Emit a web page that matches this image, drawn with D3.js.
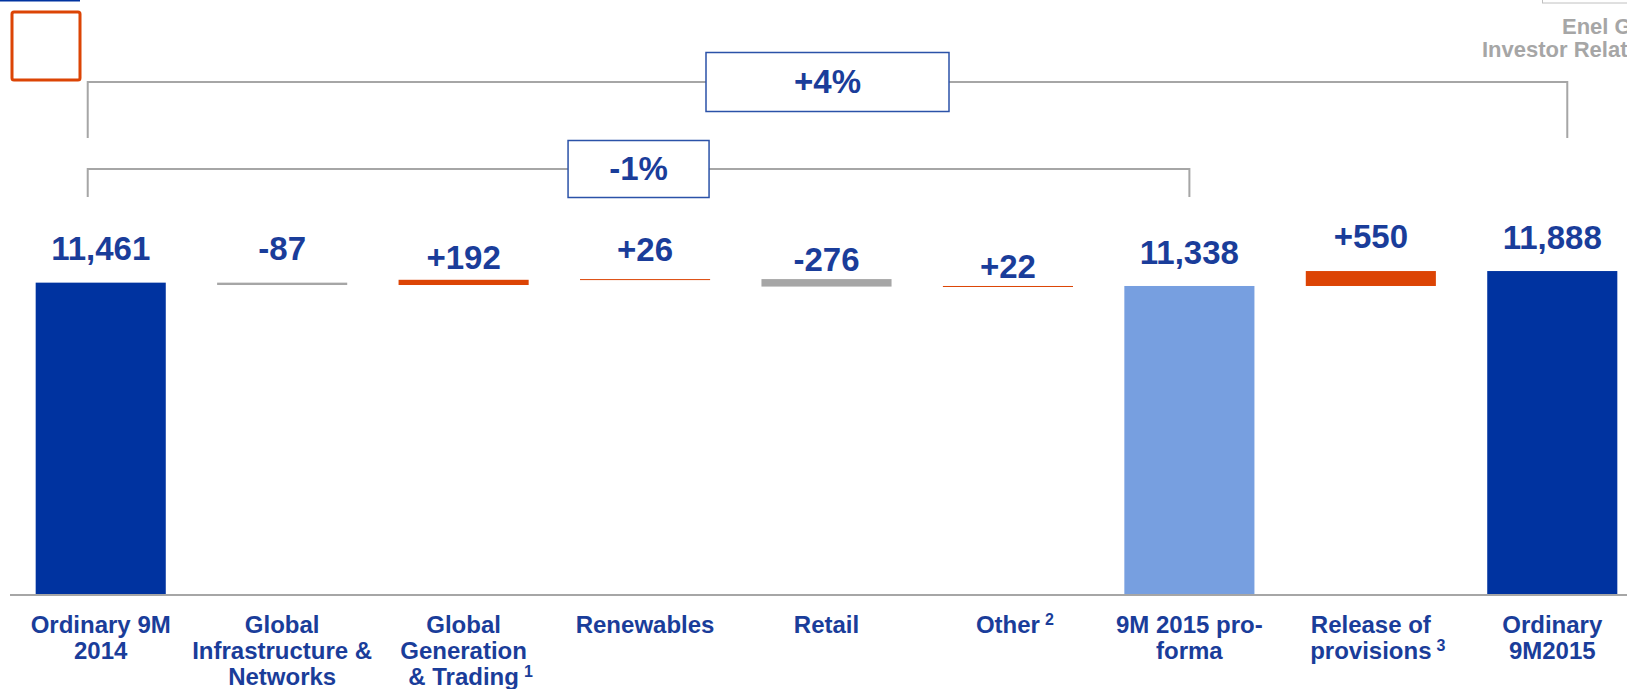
<!DOCTYPE html>
<html>
<head>
<meta charset="utf-8">
<script src="https://cdn.jsdelivr.net/npm/d3@7"></script>
<style>
  html, body { margin: 0; padding: 0; background: #fff; overflow: hidden; }
  text { font-family: "Liberation Sans", Arial, sans-serif; font-weight: bold; }
</style>
</head>
<body>
<div id="chart"></div>
<script>
// Chart data
const categories = [
  ["Ordinary 9M", "2014"],
  ["Global", "Infrastructure &", "Networks"],
  ["Global", "Generation", "& Trading"],
  ["Renewables"],
  ["Retail"],
  ["Other"],
  ["9M 2015 pro-", "forma"],
  ["Release of", "provisions"],
  ["Ordinary", "9M2015"]
];
const footnotes = ["", "", "1", "", "", "2", "", "3", ""];
const values = [11461, -87, 192, 26, -276, 22, 11338, 550, 11888];
const kinds = ["total", "delta", "delta", "delta", "delta", "delta", "subtotal", "delta", "total"];
const valueLabels = ["11,461", "-87", "+192", "+26", "-276", "+22", "11,338", "+550", "11,888"];

// Change brackets
const changeLabels = ["+4%", "-1%"];
const changeFrom = [0, 0];
const changeTo = [8, 6];

// Layout
const W = 1627, H = 689;
const baseY = 594;
const labelGap = [23, 23, 11, 18, 8, 8, 22, 23, 22];
const blue = "#0033a0", textBlue = "#1a3d9a", lightBlue = "#779fe0",
      orange = "#dc4405", grey = "#a6a6a6";

const svg = d3.select("#chart")
  .append("svg")
  .attr("width", W)
  .attr("height", H);

// waterfall rows
let run = 0;
const rows = values.map((v, i) => {
  let lo, hi;
  if (kinds[i] === "delta") {
    lo = Math.min(run, run + v); hi = Math.max(run, run + v);
    run += v;
  } else {
    lo = 0; hi = v; run = v;
  }
  return { i, v, lo, hi, kind: kinds[i] };
});

const x = d3.scaleBand()
  .domain(d3.range(categories.length))
  .range([10, 1643])
  .paddingInner(0.283)
  .paddingOuter(0.1415);

const y = d3.scaleLinear()
  .domain([0, 12000])
  .range([baseY, 268]);

const colour = d => d.kind === "total" ? blue
  : d.kind === "subtotal" ? lightBlue
  : d.v < 0 ? grey : orange;

// Bars
svg.selectAll(".bar")
  .data(rows)
  .enter()
  .append("rect")
  .attr("class", "bar")
  .attr("x", d => x(d.i))
  .attr("y", d => y(d.hi))
  .attr("width", x.bandwidth())
  .attr("height", d => Math.max(1, y(d.lo) - y(d.hi)))
  .attr("fill", colour);

// Baseline
svg.append("line")
  .attr("x1", 10).attr("x2", W)
  .attr("y1", baseY + 1).attr("y2", baseY + 1)
  .attr("stroke", grey)
  .attr("stroke-width", 2);

// Value labels
svg.selectAll(".val")
  .data(rows)
  .enter()
  .append("text")
  .attr("class", "val")
  .attr("x", d => x(d.i) + x.bandwidth() / 2)
  .attr("y", d => y(d.hi) - labelGap[d.i])
  .attr("text-anchor", "middle")
  .attr("font-size", 33)
  .attr("fill", textBlue)
  .text(d => valueLabels[d.i]);

// Category labels
categories.forEach((lines, i) => {
  const cx = x(i) + x.bandwidth() / 2;
  lines.forEach((line, j) => {
    const t = svg.append("text")
      .attr("x", cx)
      .attr("y", 633 + j * 26)
      .attr("text-anchor", "middle")
      .attr("font-size", 24)
      .attr("fill", textBlue)
      .text(line);
    if (footnotes[i] && j === lines.length - 1) {
      const w = t.node().getComputedTextLength();
      svg.append("text")
        .attr("x", cx + w / 2 + 5)
        .attr("y", 633 + j * 26 - 8)
        .attr("font-size", 16)
        .attr("fill", textBlue)
        .text(footnotes[i]);
    }
  });
});

// Change brackets
const bracketY = [82, 169], bracketBottom = [138, 197];
const boxW = [243, 141], boxH = [59, 57];
changeLabels.forEach((lab, k) => {
  const x1 = x(changeFrom[k]) + x.bandwidth() / 2 - 13;
  const x2 = changeTo[k] === 8 ? x(changeTo[k]) + x.bandwidth() / 2 + 15
                               : x(changeTo[k]) + x.bandwidth() / 2;
  svg.append("path")
    .attr("d", `M${x1},${bracketBottom[k]}V${bracketY[k]}H${x2}V${bracketBottom[k]}`)
    .attr("fill", "none")
    .attr("stroke", grey)
    .attr("stroke-width", 2);
  const mx = (x1 + x2) / 2;
  svg.append("rect")
    .attr("x", mx - boxW[k] / 2)
    .attr("y", bracketY[k] - boxH[k] / 2)
    .attr("width", boxW[k])
    .attr("height", boxH[k])
    .attr("fill", "#fff")
    .attr("stroke", "#2b52a8")
    .attr("stroke-width", 1.5);
  svg.append("text")
    .attr("x", mx)
    .attr("y", bracketY[k] + 11)
    .attr("text-anchor", "middle")
    .attr("font-size", 33)
    .attr("fill", textBlue)
    .text(lab);
});

// Slide decorations
svg.append("line")
  .attr("x1", 0).attr("x2", 80).attr("y1", 0.5).attr("y2", 0.5)
  .attr("stroke", blue).attr("stroke-width", 2);
svg.append("rect")
  .attr("x", 12).attr("y", 12).attr("width", 68).attr("height", 68)
  .attr("rx", 2)
  .attr("fill", "none")
  .attr("stroke", orange)
  .attr("stroke-width", 3);
svg.append("rect")
  .attr("x", 1542.5).attr("y", -10).attr("width", 100).attr("height", 13)
  .attr("fill", "none")
  .attr("stroke", "#c0c0c0")
  .attr("stroke-width", 1);
// header text runs off the slide edge in the source too
svg.append("text")
  .attr("x", 1562).attr("y", 34)
  .attr("font-size", 22)
  .attr("fill", grey)
  .text("Enel Group");
svg.append("text")
  .attr("x", 1482).attr("y", 57)
  .attr("font-size", 22)
  .attr("fill", grey)
  .text("Investor Relations");
</script>
</body>
</html>
